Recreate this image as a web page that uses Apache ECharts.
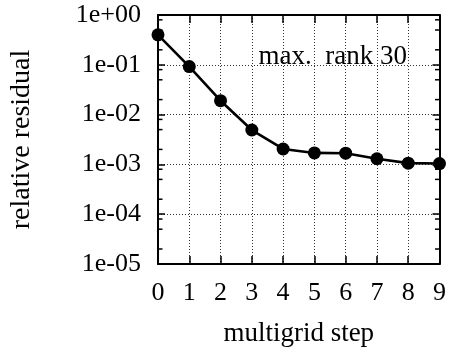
<!DOCTYPE html>
<html>
<head>
<meta charset="utf-8">
<script src="https://cdn.jsdelivr.net/npm/echarts@6/dist/echarts.min.js"></script>
<style>
  html, body { margin: 0; padding: 0; background: #fff; }
  #chart { width: 449px; height: 354px; }
</style>
</head>
<body>
<div id="chart"></div>
<script>
// Convergence of the relative residual over multigrid steps (max. rank 30)
const steps = [0, 1, 2, 3, 4, 5, 6, 7, 8, 9];
const residuals = [0.40, 0.092, 0.019, 0.0049, 0.00204, 0.0017, 0.00168, 0.0013, 0.00106, 0.00104];
// Minor tick values on the log axis (2, 5 and 8 in every decade)
const minorTickValues = [
  2e-5, 5e-5, 8e-5,
  2e-4, 5e-4, 8e-4,
  2e-3, 5e-3, 8e-3,
  2e-2, 5e-2, 8e-2,
  2e-1, 5e-1, 8e-1
];
const xLabel = 'multigrid step';
const yLabel = 'relative residual';
const annotation = 'max.  rank 30';

const FONT = 'Liberation Serif';
const INK = '#000';

function expLabel(v) {
  const e = Math.round(Math.log10(v));
  const sign = e < 0 ? '-' : '+';
  const mag = String(Math.abs(e)).padStart(2, '0');
  return '1e' + sign + mag;
}

const gridDotted = { show: true, lineStyle: { color: '#333', width: 1, type: [1, 2] } };
const frameLine = { show: true, onZero: false, lineStyle: { color: INK, width: 2 } };

const chart = echarts.init(document.getElementById('chart'), null, { renderer: 'canvas' });

chart.setOption({
  animation: false,
  backgroundColor: '#fff',
  grid: { left: 157.5, right: 7, top: 15, bottom: 90, containLabel: false },
  xAxis: [
    {
      type: 'value', min: 0, max: 9, interval: 1, position: 'bottom',
      name: xLabel, nameLocation: 'middle', nameGap: 56,
      nameTextStyle: { fontFamily: FONT, fontSize: 27, color: INK },
      axisLine: frameLine,
      axisTick: { show: true, inside: true, length: 8, lineStyle: { color: INK, width: 1.5 } },
      axisLabel: { fontFamily: FONT, fontSize: 26, color: INK, margin: 16 },
      splitLine: gridDotted
    },
    {
      type: 'value', min: 0, max: 9, interval: 1, position: 'top',
      axisLine: frameLine,
      axisTick: { show: true, inside: true, length: 8, lineStyle: { color: INK, width: 1.5 } },
      axisLabel: { show: false },
      splitLine: { show: false }
    }
  ],
  yAxis: [
    {
      type: 'log', logBase: 10, min: 1e-5, max: 1, position: 'left',
      name: yLabel, nameLocation: 'middle', nameGap: 122,
      nameTextStyle: { fontFamily: FONT, fontSize: 28, color: INK },
      axisLine: frameLine,
      axisTick: { show: true, inside: true, length: 7, lineStyle: { color: INK, width: 1.5 } },
      axisLabel: { fontFamily: FONT, fontSize: 26, color: INK, margin: 17, formatter: expLabel },
      splitLine: gridDotted
    },
    {
      type: 'log', logBase: 10, min: 1e-5, max: 1, position: 'right',
      axisLine: frameLine,
      axisTick: { show: true, inside: true, length: 7, lineStyle: { color: INK, width: 1.5 } },
      axisLabel: { show: false },
      splitLine: { show: false }
    }
  ],
  graphic: [
    {
      type: 'text', right: 449 - 407, top: 43, z: 5,
      style: { text: annotation, fontFamily: FONT, fontSize: 27, fill: INK }
    }
  ],
  series: [
    {
      // minor ticks on both vertical frame edges
      type: 'custom', xAxisIndex: 0, yAxisIndex: 0, silent: true, z: 3,
      data: minorTickValues.map(v => [0, v]),
      renderItem: function (params, api) {
        const cs = params.coordSys;
        const y = api.coord([0, api.value(1)])[1];
        const len = 4.5;
        return {
          type: 'group',
          children: [
            { type: 'line', shape: { x1: cs.x, y1: y, x2: cs.x + len, y2: y }, style: { stroke: INK, lineWidth: 1.5 } },
            { type: 'line', shape: { x1: cs.x + cs.width - len, y1: y, x2: cs.x + cs.width, y2: y }, style: { stroke: INK, lineWidth: 1.5 } }
          ]
        };
      }
    },
    {
      type: 'line', xAxisIndex: 0, yAxisIndex: 0, z: 10,
      data: steps.map((s, i) => [s, residuals[i]]),
      symbol: 'circle', symbolSize: 13,
      lineStyle: { color: INK, width: 2.6 },
      itemStyle: { color: INK },
      clip: false
    }
  ]
});
</script>
</body>
</html>
